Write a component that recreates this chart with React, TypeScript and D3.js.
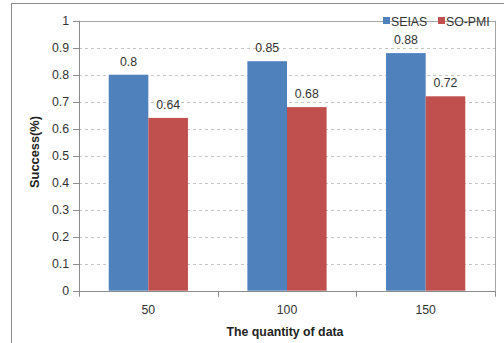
import React from "react";
import * as d3 from "d3";

const categories = ["50", "100", "150"];
const seriesNames = ["SEIAS", "SO-PMI"];
const seiasValues = [0.8, 0.85, 0.88];
const sopmiValues = [0.64, 0.68, 0.72];
const yTicks = [0, 0.1, 0.2, 0.3, 0.4, 0.5, 0.6, 0.7, 0.8, 0.9, 1];
const colors = ["#4F81BD", "#C0504D"];

const W = 504;
const H = 343;
const left = 79;
const right = 495;
const top = 20.7;
const bottom = 290.7;
const font = "'Liberation Sans', Arial, sans-serif";
const fs = 12.3;

export default function App() {
  const x = d3.scaleBand<string>().domain(categories).range([left, right]).padding(0);
  const x1 = d3
    .scaleBand<string>()
    .domain(seriesNames)
    .range([0, x.bandwidth()])
    .paddingInner(0)
    .paddingOuter(0.75);
  const y = d3.scaleLinear().domain([0, 1]).range([bottom, top]);
  const seriesValues = [seiasValues, sopmiValues];
  const fmt = (v: number) => d3.format("~g")(v);

  return (
    <svg
      width={W}
      height={H}
      style={{ position: "absolute", left: 0, top: 0, background: "#fff" }}
    >
      <rect x={0} y={0} width={W} height={H} fill="#fff" />
      {/* outer frame */}
      <rect x={11.5} y={3.5} width={W} height={H} fill="none" stroke="#8c8c8c" strokeWidth={1} />

      {/* gridlines */}
      {yTicks.slice(1, -1).map((t) => (
        <line
          key={"g" + t}
          x1={left}
          x2={right}
          y1={Math.round(y(t)) + 0.5}
          y2={Math.round(y(t)) + 0.5}
          stroke="#c4c4c4"
          strokeDasharray="3,3"
        />
      ))}
      {/* plot border top & right */}
      <line x1={left} x2={right} y1={Math.round(top) + 0.5} y2={Math.round(top) + 0.5} stroke="#a6a6a6" />
      <line x1={right + 0.5} x2={right + 0.5} y1={top} y2={bottom} stroke="#a6a6a6" />

      {/* bars */}
      {categories.map((c, i) =>
        seriesNames.map((s, j) => {
          const v = seriesValues[j][i];
          const bx = (x(c) as number) + (x1(s) as number);
          return (
            <g key={c + s}>
              <rect
                x={bx}
                y={y(v)}
                width={x1.bandwidth()}
                height={bottom - y(v)}
                fill={colors[j]}
              />
              <text
                x={bx + x1.bandwidth() / 2}
                y={y(v) - 9}
                textAnchor="middle"
                fontFamily={font}
                fontSize={fs}
                fill="#333"
              >
                {fmt(v)}
              </text>
            </g>
          );
        })
      )}

      {/* y axis */}
      <line x1={left + 0.5} x2={left + 0.5} y1={top} y2={bottom + 0.5} stroke="#8c8c8c" />
      {yTicks.map((t) => (
        <g key={"y" + t}>
          <line
            x1={left - 6}
            x2={left}
            y1={Math.round(y(t)) + 0.5}
            y2={Math.round(y(t)) + 0.5}
            stroke="#8c8c8c"
          />
          <text
            x={69}
            y={y(t) + 4.3}
            textAnchor="end"
            fontFamily={font}
            fontSize={fs}
            fill="#333"
          >
            {fmt(t)}
          </text>
        </g>
      ))}

      {/* x axis */}
      <line x1={left} x2={right + 1} y1={Math.round(bottom) + 0.5} y2={Math.round(bottom) + 0.5} stroke="#8c8c8c" />
      {[...categories.map((c) => x(c) as number), right].map((tx, i) => (
        <line
          key={"xt" + i}
          x1={Math.round(tx) + 0.5}
          x2={Math.round(tx) + 0.5}
          y1={bottom}
          y2={bottom + 6}
          stroke="#8c8c8c"
        />
      ))}
      {categories.map((c) => (
        <text
          key={"xl" + c}
          x={(x(c) as number) + x.bandwidth() / 2}
          y={313.5}
          textAnchor="middle"
          fontFamily={font}
          fontSize={fs}
          fill="#333"
        >
          {c}
        </text>
      ))}

      {/* axis titles */}
      <text
        x={(left + right) / 2 - 2}
        y={336}
        textAnchor="middle"
        fontFamily={font}
        fontSize={fs}
        fontWeight="bold"
        fill="#222"
      >
        The quantity of data
      </text>
      <text
        transform={`translate(39, 152) rotate(-90)`}
        textAnchor="middle"
        fontFamily={font}
        fontSize={12.8}
        fontWeight="bold"
        fill="#222"
      >
        Success(%)
      </text>

      {/* legend */}
      {seriesNames.map((s, j) => {
        const lx = [383, 438][j];
        return (
          <g key={"lg" + s}>
            <rect x={lx} y={17} width={7} height={7} fill={colors[j]} />
            <text x={lx + 8} y={25.5} fontFamily={font} fontSize={fs} fill="#333">
              {s}
            </text>
          </g>
        );
      })}
    </svg>
  );
}
